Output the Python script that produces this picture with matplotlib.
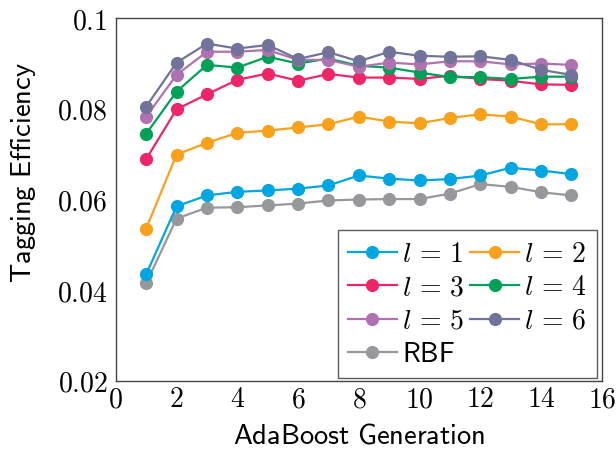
import matplotlib
matplotlib.use("Agg")
import matplotlib.pyplot as plt

plt.rcParams['mathtext.fontset'] = 'cm'
plt.rcParams['font.family'] = ['DejaVu Sans']

generations = [1, 2, 3, 4, 5, 6, 7, 8, 9, 10, 11, 12, 13, 14, 15]

l1 = [0.0435, 0.0585, 0.0609, 0.0617, 0.0620, 0.0624, 0.0631, 0.0653, 0.0646, 0.0642, 0.0645, 0.0653, 0.0670, 0.0664, 0.0656]
l2 = [0.0536, 0.0699, 0.0725, 0.0747, 0.0752, 0.0759, 0.0766, 0.0783, 0.0772, 0.0768, 0.0780, 0.0788, 0.0783, 0.0766, 0.0766]
l3 = [0.0689, 0.0799, 0.0832, 0.0864, 0.0878, 0.0862, 0.0877, 0.0869, 0.0869, 0.0866, 0.0873, 0.0866, 0.0862, 0.0854, 0.0853]
l4 = [0.0745, 0.0838, 0.0897, 0.0891, 0.0915, 0.0900, 0.0911, 0.0895, 0.0891, 0.0880, 0.0870, 0.0870, 0.0866, 0.0871, 0.0871]
l5 = [0.0783, 0.0875, 0.0926, 0.0926, 0.0930, 0.0908, 0.0908, 0.0893, 0.0902, 0.0898, 0.0905, 0.0905, 0.0898, 0.0900, 0.0897]
l6 = [0.0805, 0.0902, 0.0944, 0.0933, 0.0941, 0.0910, 0.0925, 0.0905, 0.0926, 0.0917, 0.0915, 0.0916, 0.0908, 0.0886, 0.0875]
rbf = [0.0415, 0.0558, 0.0582, 0.0583, 0.0587, 0.0591, 0.0598, 0.0600, 0.0601, 0.0601, 0.0613, 0.0634, 0.0628, 0.0616, 0.0609]

series_labels = [r'$l\,=\,1$', r'$l\,=\,2$', r'$l\,=\,3$', r'$l\,=\,4$', r'$l\,=\,5$', r'$l\,=\,6$', r'$\mathsf{RBF}$']
series_colors = ['#00A6E2', '#F9A11B', '#EE2667', '#00A057', '#B071B1', '#72739A', '#96989B']

xticks = [0, 2, 4, 6, 8, 10, 12, 14, 16]
xtick_labels = ['0', '2', '4', '6', '8', '10', '12', '14', '16']
yticks = [0.02, 0.04, 0.06, 0.08, 0.1]
ytick_labels = ['0.02', '0.04', '0.06', '0.08', '0.1']

fig = plt.figure(figsize=(6.16, 4.55), dpi=100)
ax = fig.add_axes([0.188, 0.163, 0.789, 0.797])

all_series = [l1, l2, l3, l4, l5, l6, rbf]
order = [6, 0, 1, 2, 3, 4, 5]
lines = {}
for i in order:
    ln, = ax.plot(generations, all_series[i], color=series_colors[i], lw=1.6,
                  marker='o', markersize=9.5, markeredgewidth=0, label=series_labels[i])
    lines[i] = ln

ax.set_xlim(0, 16)
ax.set_ylim(0.02, 0.1)
ax.set_xticks(xticks)
ax.set_xticklabels(['$' + t + '$' for t in xtick_labels], fontsize=20)
ax.set_yticks(yticks)
ax.set_yticklabels(['$' + t + '$' for t in ytick_labels], fontsize=20)
ax.tick_params(length=0, pad=6)
ax.tick_params(axis='x', pad=3)
for s in ax.spines.values():
    s.set_color('#444444')
    s.set_linewidth(1.0)

ax.set_xlabel(r'$\mathsf{AdaBoost\ Generation}$', fontsize=20.5, labelpad=6)
ax.set_ylabel(r'$\mathsf{Tagging\ Efficiency}$', fontsize=20.5)
ax.yaxis.set_label_coords(-0.16, 0.575)

# column-major ordering so rows read l=1,l=2 / l=3,l=4 / ...
leg_order = [0, 2, 4, 6, 1, 3, 5]
leg = ax.legend([lines[i] for i in leg_order], [series_labels[i] for i in leg_order],
                ncol=2, loc='lower right', bbox_to_anchor=(0.99, 0.008),
                fontsize=20, frameon=True, fancybox=False, edgecolor='#333333',
                handlelength=1.75, handletextpad=0.2, columnspacing=0.2,
                labelspacing=0.2, borderpad=0.35, borderaxespad=0)
leg.get_frame().set_linewidth(1.0)

fig.savefig('out.png', dpi=100)
